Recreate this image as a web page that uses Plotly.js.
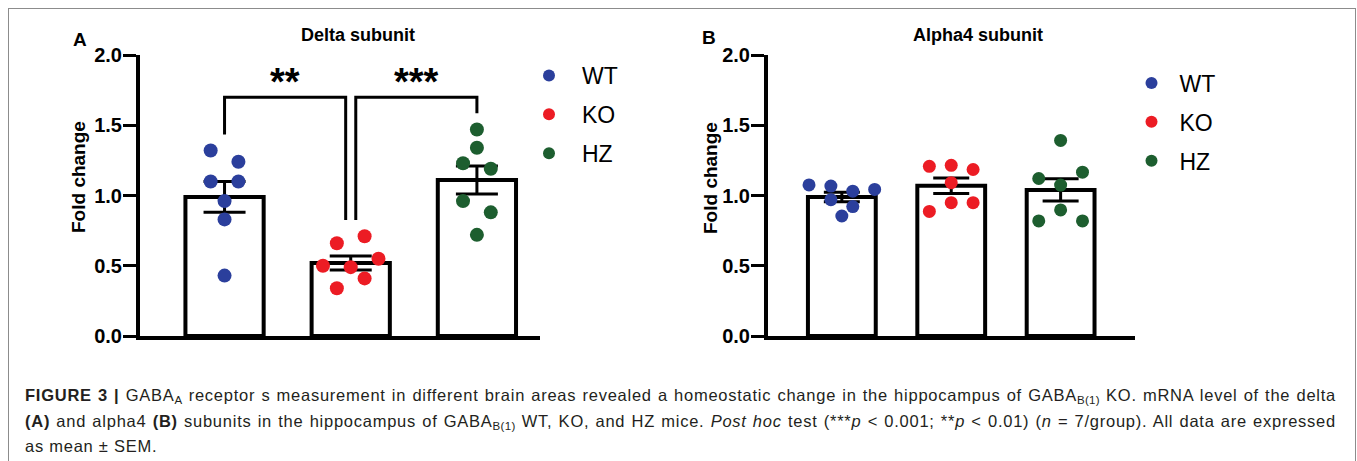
<!DOCTYPE html>
<html>
<head>
<meta charset="utf-8">
<script src="https://cdn.plot.ly/plotly-3.0.1.min.js"></script>
<style>
html,body{margin:0;padding:0;background:#fff;}
#wrap{position:relative;width:1357px;height:461px;overflow:hidden;background:#fff;}
#chart{position:absolute;left:0;top:0;width:1357px;height:461px;}
#frame{position:absolute;left:8px;top:8px;width:1348px;height:480px;border:1px solid #8c8c8c;box-sizing:border-box;pointer-events:none;z-index:5;}
#caption{position:absolute;left:25px;top:383px;width:1311px;font-family:'Liberation Sans',Arial,sans-serif;font-size:16.5px;letter-spacing:0.75px;color:#231f20;line-height:25.5px;z-index:6;}
.ln{white-space:nowrap;display:inline-block;}
sub{font-size:11.5px;vertical-align:-3px;line-height:0;letter-spacing:0.3px;}
</style>
</head>
<body>
<div id="wrap">
  <div id="chart"></div>
  <div id="frame"></div>
  <div id="caption">
    <span class="ln fit"><b>FIGURE 3 |</b> GABA<sub>A</sub> receptor s measurement in different brain areas revealed a homeostatic change in the hippocampus of GABA<sub>B(1)</sub> KO. mRNA level of the delta</span><br>
    <span class="ln fit"><b>(A)</b> and alpha4 <b>(B)</b> subunits in the hippocampus of GABA<sub>B(1)</sub> WT, KO, and HZ mice. <i>Post hoc</i> test (***<i>p</i> &lt; 0.001; **<i>p</i> &lt; 0.01) (<i>n</i> = 7/group). All data are expressed</span><br>
    <span class="ln">as mean ± SEM.</span>
  </div>
</div>
<script>
// ---------------- data ----------------
const groups = ['WT', 'KO', 'HZ'];

// Panel A: Delta subunit (fold change, individual animals)
const deltaWT = [1.32, 1.24, 1.10, 1.10, 0.96, 0.83, 0.43];
const deltaKO = [0.66, 0.71, 0.50, 0.49, 0.55, 0.34, 0.41];
const deltaHZ = [1.47, 1.34, 1.23, 1.19, 0.96, 0.88, 0.72];
const deltaMean = [0.99, 0.52, 1.11];
const deltaSEM = [0.11, 0.05, 0.10];

// Panel B: Alpha4 subunit
const alphaWT = [1.075, 1.067, 1.031, 1.043, 0.970, 0.921, 0.854];
const alphaKO = [1.208, 1.215, 1.185, 1.091, 0.887, 0.949, 0.949];
const alphaHZ = [1.392, 1.121, 1.074, 1.166, 0.819, 0.897, 0.819];
const alphaMean = [0.99, 1.07, 1.04];
const alphaSEM = [0.034, 0.055, 0.08];

const yTickVals = [0, 0.5, 1.0, 1.5, 2.0];
const yTickText = ['0.0', '0.5', '1.0', '1.5', '2.0'];

// significance comparisons in panel A
const comparisons = [
  {a: 0, b: 1, label: '**'},
  {a: 1, b: 2, label: '***'}
];

// ---------------- styles ----------------
const FONT = "'Liberation Sans', Arial, sans-serif";
const groupColors = ['#2b3f9c', '#ec1c24', '#1d5e2f'];
const W = 1357, H = 461;
const px = v => v / W;
const py = v => 1 - v / H;

// scatter-dot-plot placement: values grouped into rows, rows spread symmetrically
function swarm(vals, center, step, rowTol) {
  const idx = vals.map((v, i) => i).sort((a, b) => vals[b] - vals[a]);
  const xs = new Array(vals.length);
  let i = 0;
  while (i < idx.length) {
    const start = vals[idx[i]];
    const row = [];
    while (i < idx.length && start - vals[idx[i]] < rowTol - 1e-9) { row.push(idx[i]); i++; }
    row.sort((a, b) => a - b);
    row.forEach((k, j) => { xs[k] = center + (j - (row.length - 1) / 2) * step; });
  }
  return xs;
}

function panelTraces(pointSets, means, sems, xa, ya, legendId, step, dotSize, capW) {
  const tr = [{
    type: 'bar', x: [0, 1, 2], y: means, width: 0.62,
    xaxis: xa, yaxis: ya, showlegend: false, hoverinfo: 'skip',
    marker: {color: '#ffffff', line: {color: '#000000', width: 4}},
    error_y: {type: 'data', array: sems, visible: true, color: '#000000', thickness: 3, width: capW}
  }];
  pointSets.forEach((vals, g) => {
    tr.push({
      type: 'scatter', mode: 'markers', name: groups[g],
      x: swarm(vals, g, step, 0.1), y: vals,
      xaxis: xa, yaxis: ya, legend: legendId, legendgroup: legendId + groups[g],
      marker: {color: groupColors[g], size: dotSize, line: {width: 0}},
      cliponaxis: false, hoverinfo: 'skip'
    });
  });
  return tr;
}

const traces = [
  ...panelTraces([deltaWT, deltaKO, deltaHZ], deltaMean, deltaSEM, 'x', 'y', 'legend', 0.22, 14, 21),
  ...panelTraces([alphaWT, alphaKO, alphaHZ], alphaMean, alphaSEM, 'x2', 'y2', 'legend2', 0.2, 13, 18)
];

function yAxis(dom) {
  return {
    domain: dom, range: [0, 2], tickvals: yTickVals, ticktext: yTickText,
    ticks: 'outside', ticklen: 13, tickwidth: 3, tickcolor: '#000',
    ticklabelstandoff: -3,
    showline: true, linewidth: 4, linecolor: '#000',
    showgrid: false, zeroline: false, fixedrange: true,
    tickfont: {family: FONT, size: 20, color: '#000', weight: 'bold'}
  };
}
function xAxis(dom, rng, anchor) {
  return {
    domain: dom, range: rng, anchor: anchor,
    showline: true, linewidth: 4, linecolor: '#000',
    showticklabels: false, ticks: '', showgrid: false, zeroline: false, fixedrange: true
  };
}

const yDom = [py(336), py(55)];

// bracket shapes for panel A
const shapes = [];
const annotations = [];
const maxOf = [deltaWT, deltaKO, deltaHZ].map(a => Math.max(...a));
const bracketTop = 1.70, footGap = 0.115, innerOff = 0.04;
comparisons.forEach((c, k) => {
  const xa = c.a + (c.a === 1 ? innerOff : 0);
  const xb = c.b - (c.b === 1 ? innerOff : 0);
  shapes.push({
    type: 'path', xref: 'x', yref: 'y',
    path: `M ${xa},${maxOf[c.a] + footGap} L ${xa},${bracketTop} L ${xb},${bracketTop} L ${xb},${maxOf[c.b] + footGap}`,
    line: {color: '#000', width: 3}
  });
  annotations.push({
    xref: 'x', yref: 'y', x: (xa + xb) / 2, y: 1.81, text: c.label, showarrow: false,
    xanchor: 'center', yanchor: 'middle',
    font: {family: FONT, size: 38, color: '#000', weight: 'bold'}
  });
});

function txt(text, x, y, size, extra) {
  return Object.assign({
    xref: 'paper', yref: 'paper', x: px(x), y: py(y), text: text, showarrow: false,
    xanchor: 'center', yanchor: 'middle',
    font: {family: FONT, size: size, color: '#000', weight: 'bold'}
  }, extra || {});
}
annotations.push(txt('Delta subunit', 357.5, 35, 18));
annotations.push(txt('Alpha4 subunit', 978, 35, 18));
annotations.push(txt('A', 80, 39, 19));
annotations.push(txt('B', 709, 37, 19));
annotations.push(txt('Fold change', 78, 177, 19, {textangle: -90}));
annotations.push(txt('Fold change', 710, 178, 19, {textangle: -90}));

function legendBox(x, y, iw) {
  return {
    x: px(x), y: py(y), xanchor: 'left', yanchor: 'top',
    bgcolor: 'rgba(0,0,0,0)', borderwidth: 0, itemsizing: 'constant',
    tracegroupgap: 6, itemwidth: iw,
    font: {family: FONT, size: 23, color: '#000'}
  };
}

const layout = {
  width: W, height: H, margin: {l: 0, r: 0, t: 0, b: 0},
  paper_bgcolor: 'rgba(0,0,0,0)', plot_bgcolor: 'rgba(0,0,0,0)',
  showlegend: true, bargap: 0,
  xaxis: xAxis([px(140), px(540)], [-0.67, 2.5], 'y'),
  yaxis: yAxis(yDom),
  xaxis2: xAxis([px(768), px(1135)], [-0.675, 2.68], 'y2'),
  yaxis2: Object.assign(yAxis(yDom), {anchor: 'x2'}),
  legend: legendBox(516, 54, 56),
  legend2: legendBox(1123.5, 61.5, 46),
  shapes: shapes,
  annotations: annotations
};
layout.yaxis.anchor = 'x';

Plotly.newPlot('chart', traces, layout, {staticPlot: true, displayModeBar: false});

// justify the first two caption lines to the full text width
function fitCaption() {
  document.querySelectorAll('#caption .fit').forEach(el => {
    el.style.wordSpacing = '0px';
    const w = el.getBoundingClientRect().width;
    const n = (el.textContent.match(/ /g) || []).length;
    if (n > 0) el.style.wordSpacing = ((1311 - w) / n) + 'px';
  });
}
fitCaption();
if (document.fonts && document.fonts.ready) document.fonts.ready.then(fitCaption);
</script>
</body>
</html>
